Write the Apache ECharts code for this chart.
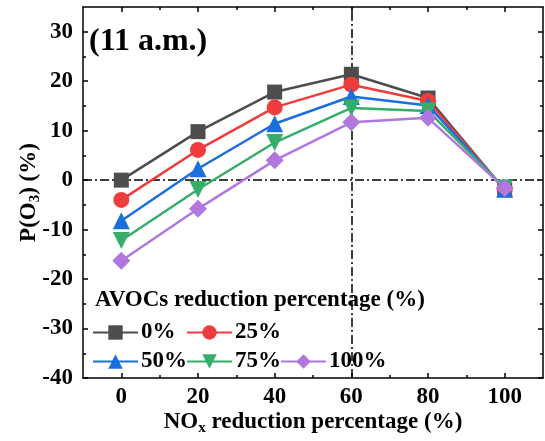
<!DOCTYPE html>
<html><head><meta charset="utf-8">
<script src="https://cdn.jsdelivr.net/npm/echarts@6/dist/echarts.min.js"></script>
<style>html,body{margin:0;padding:0;background:#fff}#c{width:545px;height:441px}</style>
</head><body><div id="c"></div>
<script>
const xValues = [0, 20, 40, 60, 80, 100];
const seriesNames = ['0%', '25%', '50%', '75%', '100%'];
const s0 = [0.0, 9.8, 17.8, 21.4, 16.6, -2.0];
const s25 = [-4.0, 6.1, 14.7, 19.3, 16.0, -1.9];
const s50 = [-8.2, 2.3, 11.4, 16.9, 15.1, -1.8];
const s75 = [-12.2, -1.9, 7.6, 14.6, 14.0, -1.6];
const s100 = [-16.3, -5.8, 4.0, 11.7, 12.6, -1.6];
const xMajor = [0, 20, 40, 60, 80, 100];
const xMinor = [10, 30, 50, 70, 90];
const yMajor = [-40, -30, -20, -10, 0, 10, 20, 30];
const yMinor = [-35, -25, -15, -5, 5, 15, 25];

const FONT = 'Liberation Serif';
const FS = 23;
const colors = ['#4D4D4D', '#F03C3C', '#1A6FDF', '#37AD6B', '#B177DE'];
const symbols = ['rect', 'circle', 'triangle', 'triangle', 'diamond'];
const rotates = [0, 0, 0, 180, 0];
const sizes = [15, 16, 17, 17, 18];
const allData = [s0, s25, s50, s75, s100];

const chart = echarts.init(document.getElementById('c'), null, {renderer: 'canvas'});

function xAx(pos, ticks, len, labels, line) {
  return {
    type: 'value', position: pos, min: -10, max: 110, gridIndex: 0,
    axisLine: {show: line, onZero: false, lineStyle: {color: '#000', width: 1.5}},
    axisTick: {show: true, inside: true, length: len, customValues: ticks, lineStyle: {color: '#000', width: 1.5}},
    axisLabel: labels ? {show: true, customValues: ticks, margin: 8, color: '#000', fontFamily: FONT, fontWeight: 'bold', fontSize: FS} : {show: false},
    splitLine: {show: false}
  };
}
function yAx(pos, ticks, len, labels, line) {
  return {
    type: 'value', position: pos, min: -40, max: 35, gridIndex: 0,
    axisLine: {show: line, onZero: false, lineStyle: {color: '#000', width: 1.5}},
    axisTick: {show: true, inside: true, length: len, customValues: ticks, lineStyle: {color: '#000', width: 1.5}},
    axisLabel: labels ? {show: true, customValues: ticks, margin: 10, color: '#000', fontFamily: FONT, fontWeight: 'bold', fontSize: FS} : {show: false},
    splitLine: {show: false}
  };
}

const xAxes = [xAx('bottom', xMajor, 5, true, true), xAx('bottom', xMinor, 3, false, false), xAx('top', xMajor, 5, false, true), xAx('top', xMinor, 3, false, false)];
const yAxes = [yAx('left', yMajor, 5, true, true), yAx('left', yMinor, 3, false, false), yAx('right', yMajor, 5, false, true), yAx('right', yMinor, 3, false, false)];

const nameRich = {
  a: {fontFamily: FONT, fontWeight: 'bold', fontSize: FS, color: '#000'},
  s: {fontFamily: FONT, fontWeight: 'bold', fontSize: 15, color: '#000', padding: [12, 0, 0, 0]}
};
xAxes[0].name = '{a|NO}{s|x}{a| reduction percentage (%)}';
xAxes[0].nameLocation = 'middle';
xAxes[0].nameGap = 31;
xAxes[0].nameMoveOverlap = false;
xAxes[0].nameTextStyle = {rich: nameRich};
yAxes[0].name = '{a|P(O}{s|3}{a|) (%)}';
yAxes[0].nameLocation = 'middle';
yAxes[0].nameGap = 40;
yAxes[0].nameMoveOverlap = false;
yAxes[0].nameTextStyle = {rich: nameRich};

const series = seriesNames.map((n, i) => ({
  name: n, type: 'line', xAxisIndex: 0, yAxisIndex: 0,
  data: xValues.map((x, j) => [x, allData[i][j]]),
  symbol: symbols[i], symbolRotate: rotates[i], symbolSize: sizes[i],
  showSymbol: true,
  itemStyle: {color: colors[i]},
  lineStyle: {color: colors[i], width: 2.5},
  z: 3 + i
}));
series[0].markLine = {
  silent: true, symbol: ['none', 'none'], label: {show: false},
  lineStyle: {color: '#000', width: 1.5, type: [9, 3, 2, 3]},
  data: [{yAxis: 0}, {xAxis: 60}], z: 1
};

const legendPos = [[92, 321], [186, 321], [92, 350], [186, 350], [280, 350]];
const legends = seriesNames.map((n, i) => ({
  data: [n], left: legendPos[i][0], top: legendPos[i][1], padding: 0,
  itemWidth: 45, itemHeight: 18, itemGap: 0,
  textStyle: {fontFamily: FONT, fontWeight: 'bold', fontSize: FS, color: '#000', padding: [0, 0, 0, -2]},
  selectedMode: false
}));

chart.setOption({
  animation: false,
  backgroundColor: '#fff',
  grid: {left: 83, right: 2, top: 7, bottom: 63},
  xAxis: xAxes, yAxis: yAxes,
  legend: legends,
  graphic: [
    {type: 'text', left: 89, top: 26, style: {text: '(11 a.m.)', fontFamily: FONT, fontWeight: 'bold', fontSize: 32, fill: '#000'}},
    {type: 'text', left: 95, top: 289, style: {text: 'AVOCs reduction percentage (%)', fontFamily: FONT, fontWeight: 'bold', fontSize: FS, fill: '#000'}}
  ],
  series: series
});
</script></body></html>
